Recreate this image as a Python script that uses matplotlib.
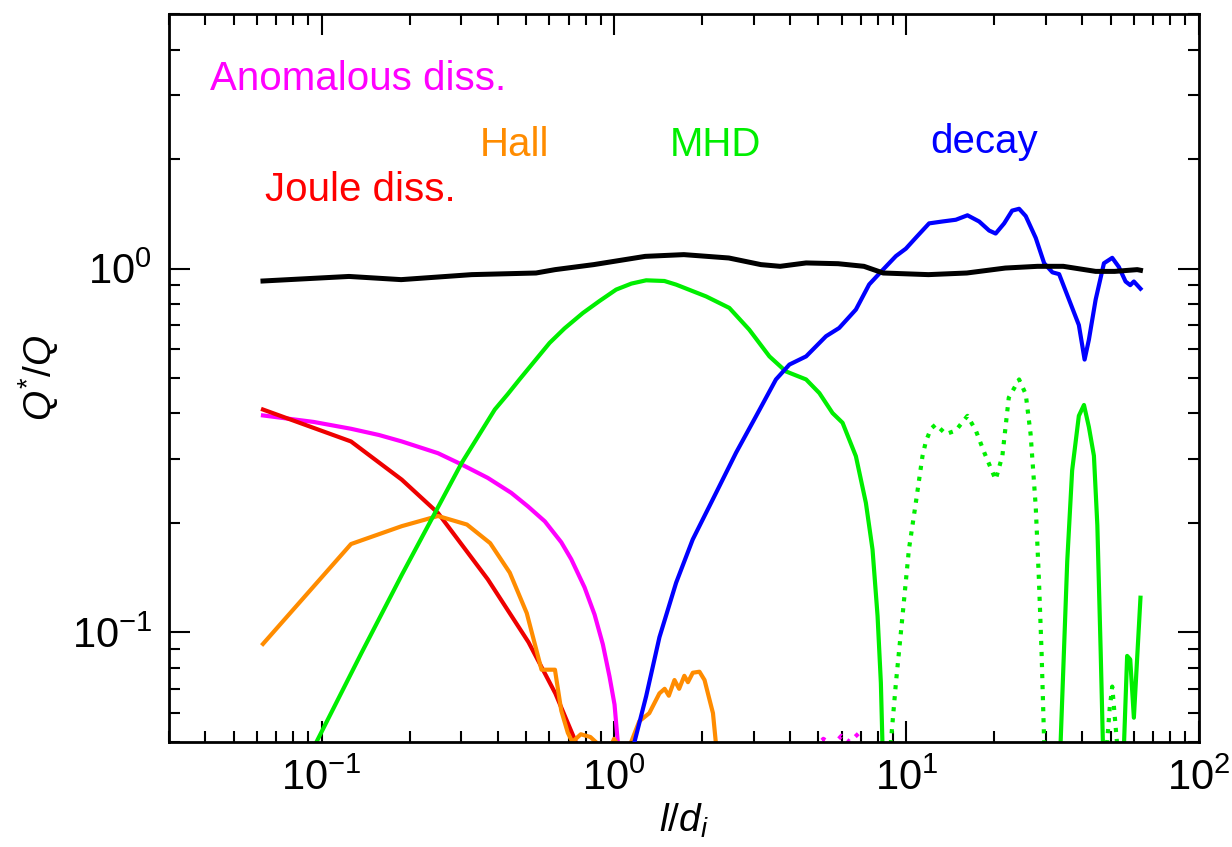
import numpy as np
import matplotlib
matplotlib.use("Agg")
import matplotlib.pyplot as plt

# --- data (l/d_i , Q*/Q) ---
total_x = [0.063, 0.124, 0.187, 0.326, 0.541, 0.629, 0.852, 1.278, 1.733, 2.47, 3.18, 3.70,
           4.54, 5.84, 7.16, 8.33, 11.9, 16.1, 21.8, 28.1, 34.4, 44.4, 51.6, 61.6, 63.2]
total_y = [0.925, 0.952, 0.933, 0.963, 0.973, 0.994, 1.026, 1.081, 1.093, 1.070, 1.026, 1.015,
           1.037, 1.032, 1.015, 0.973, 0.963, 0.973, 1.004, 1.015, 1.015, 0.983, 0.983, 0.994, 0.99]

joule_x = [0.063, 0.126, 0.188, 0.25, 0.37, 0.51, 0.63, 0.74, 0.80]
joule_y = [0.41, 0.335, 0.263, 0.213, 0.140, 0.094, 0.068, 0.050, 0.042]

anom_x = [0.063, 0.094, 0.126, 0.157, 0.188, 0.25, 0.30, 0.37, 0.445, 0.508, 0.58, 0.66,
          0.714, 0.793, 0.858, 0.916, 0.965, 1.004, 1.03, 1.06]
anom_y = [0.395, 0.379, 0.363, 0.349, 0.335, 0.311, 0.290, 0.266, 0.242, 0.222, 0.202, 0.177,
          0.159, 0.133, 0.112, 0.0927, 0.0757, 0.0634, 0.050, 0.042]
anom_neg_x = [4.85, 5.2, 5.6, 6.0, 6.4, 6.9]
anom_neg_y = [0.048, 0.051, 0.049, 0.052, 0.050, 0.053]

hall_x = [0.063, 0.126, 0.188, 0.25, 0.314, 0.377, 0.44, 0.503, 0.565, 0.628, 0.66, 0.695,
          0.72, 0.77, 0.83, 0.89, 0.95, 1.0, 1.05, 1.10, 1.145, 1.22, 1.32, 1.43, 1.49, 1.54,
          1.61, 1.67, 1.74, 1.79, 1.86, 1.96, 2.04, 2.12, 2.18, 2.24]
hall_y = [0.093, 0.175, 0.196, 0.209, 0.198, 0.176, 0.146, 0.113, 0.079, 0.079, 0.061, 0.053,
          0.050, 0.0525, 0.0516, 0.049, 0.046, 0.051, 0.048, 0.046, 0.050, 0.057, 0.060, 0.068,
          0.070, 0.067, 0.074, 0.070, 0.076, 0.073, 0.0775, 0.078, 0.074, 0.0655, 0.060, 0.048]

mhd_x = [0.085, 0.096, 0.137, 0.188, 0.244, 0.301, 0.391, 0.433, 0.475, 0.535, 0.602, 0.677,
         0.782, 0.892, 1.017, 1.147, 1.288, 1.487, 1.631, 2.065, 2.48, 2.90, 3.40, 3.87, 4.54,
         5.04, 5.59, 6.05, 6.72, 7.27, 7.66, 7.97, 8.18, 8.28, 8.4]
mhd_y = [0.035, 0.050, 0.088, 0.144, 0.213, 0.292, 0.410, 0.452, 0.496, 0.557, 0.625, 0.685,
         0.755, 0.815, 0.876, 0.910, 0.929, 0.925, 0.904, 0.839, 0.780, 0.680, 0.574, 0.522,
         0.496, 0.455, 0.401, 0.377, 0.305, 0.227, 0.169, 0.111, 0.0727, 0.050, 0.030]
mhd2_x = [33.3, 33.7, 35.5, 36.9, 38.9, 40.5, 42.1, 43.8, 45.0, 46.2, 47.0, 47.3]
mhd2_y = [0.04, 0.05, 0.157, 0.279, 0.394, 0.422, 0.367, 0.306, 0.197, 0.0883, 0.05, 0.04]
mhd3_x = [55.0, 56.9, 58.3, 60.0, 63.2]
mhd3_y = [0.04, 0.0862, 0.0843, 0.0583, 0.1246]

# negative part of MHD term (dotted)
mhdneg_x = [8.6, 8.85, 9.21, 9.70, 10.2, 10.77, 11.35, 11.66, 12.13, 12.6, 13.65, 14.76, 16.18,
            17.28, 18.45, 20.2, 21.3, 22.4, 24.3, 25.6, 26.6, 27.7, 28.4, 29.0, 29.6, 30.0]
mhdneg_y = [0.04, 0.05, 0.0727, 0.111, 0.169, 0.227, 0.305, 0.335, 0.363, 0.373, 0.351, 0.359,
            0.394, 0.359, 0.313, 0.263, 0.306, 0.442, 0.496, 0.452, 0.351, 0.2215, 0.140, 0.0883,
            0.05, 0.04]
mhdneg2_x = [47.5, 48.6, 49.6, 50.6, 51.5, 52.5, 53.0]
mhdneg2_y = [0.04, 0.05, 0.062, 0.071, 0.060, 0.05, 0.04]

decay_x = [1.13, 1.175, 1.288, 1.43, 1.631, 1.858, 2.234, 2.615, 3.06, 3.58, 3.98, 4.54, 5.31,
           5.89, 6.72, 7.46, 8.28, 9.21, 9.96, 10.9, 11.96, 13.28, 14.76, 16.18, 17.74, 19.19,
           20.2, 21.6, 23.0, 24.3, 25.6, 27.7, 29.6, 31.6, 33.3, 36.0, 38.9, 40.7, 42.1, 44.4,
           47.4, 50.6, 53.3, 56.2, 58.3, 60.0, 63.2]
decay_y = [0.04, 0.05, 0.0668, 0.097, 0.137, 0.180, 0.242, 0.312, 0.393, 0.496, 0.545, 0.574,
           0.652, 0.687, 0.772, 0.905, 0.99, 1.083, 1.135, 1.229, 1.332, 1.348, 1.363, 1.402,
           1.348, 1.273, 1.249, 1.332, 1.444, 1.461, 1.395, 1.215, 1.035, 0.977, 0.966, 0.822,
           0.700, 0.5625, 0.638, 0.822, 1.035, 1.071, 1.011, 0.922, 0.901, 0.922, 0.881]

# text labels: (text, colour, x axes frac, y axes frac)
label_text = ["Anomalous diss.", "Hall", "MHD", "decay", "Joule diss."]
label_col = ["#ff00ff", "#ff8c00", "#00ee00", "#0000ff", "#ff0000"]
label_pos = [(0.040, 0.911), (0.302, 0.821), (0.486, 0.821), (0.739, 0.825), (0.093, 0.759)]

plt.rcParams['font.family'] = ['Liberation Sans', 'DejaVu Sans']
plt.rcParams['mathtext.fontset'] = 'custom'
plt.rcParams['mathtext.rm'] = 'Liberation Sans'
plt.rcParams['mathtext.it'] = 'Liberation Sans:italic'
plt.rcParams['mathtext.default'] = 'regular'

fig = plt.figure(figsize=(12.32, 8.47), dpi=100)
ax = fig.add_axes([0.137, 0.124, 0.836, 0.859])

lw = 3.0
ax.plot(total_x, total_y, color='black', lw=3.6, zorder=5)
ax.plot(anom_x, anom_y, color='#ff00ff', lw=lw)
ax.plot(anom_neg_x, anom_neg_y, color='#ff00ff', lw=lw, ls=':')
ax.plot(joule_x, joule_y, color='#ee0000', lw=lw)
ax.plot(hall_x, hall_y, color='#ff8c00', lw=lw)
ax.plot(mhd_x, mhd_y, color='#00ee00', lw=lw)
ax.plot(mhd2_x, mhd2_y, color='#00ee00', lw=lw)
ax.plot(mhd3_x, mhd3_y, color='#00ee00', lw=lw)
ax.plot(mhdneg_x, mhdneg_y, color='#00ee00', lw=lw, ls=':')
ax.plot(mhdneg2_x, mhdneg2_y, color='#00ee00', lw=lw, ls=':')
ax.plot(decay_x, decay_y, color='#0000ff', lw=lw, zorder=4)

ax.set_xscale('log')
ax.set_yscale('log')
ax.set_xlim(0.03, 100)
ax.set_ylim(0.05, 5)

# idl style ticks on every side
ax.tick_params(which='both', direction='in', top=True, right=True, width=1.5)
ax.tick_params(which='major', length=15, labelsize=30, pad=12)
ax.tick_params(which='minor', length=8)
ax.yaxis.set_minor_formatter(matplotlib.ticker.NullFormatter())
ax.set_yticks([0.1, 1])
for s in ax.spines.values():
    s.set_linewidth(2)

ax.set_xlabel(r'$\mathit{l}/\mathit{d}_{\mathit{i}}$', fontsize=28, labelpad=2)
ax.set_ylabel(r'$\mathit{Q}^{*}/\mathit{Q}$', fontsize=28, labelpad=8)

for t, c, p in zip(label_text, label_col, label_pos):
    ax.text(p[0], p[1], t, color=c, fontsize=29, ha='left', va='center', transform=ax.transAxes)

fig.savefig('out.png', dpi=100)
